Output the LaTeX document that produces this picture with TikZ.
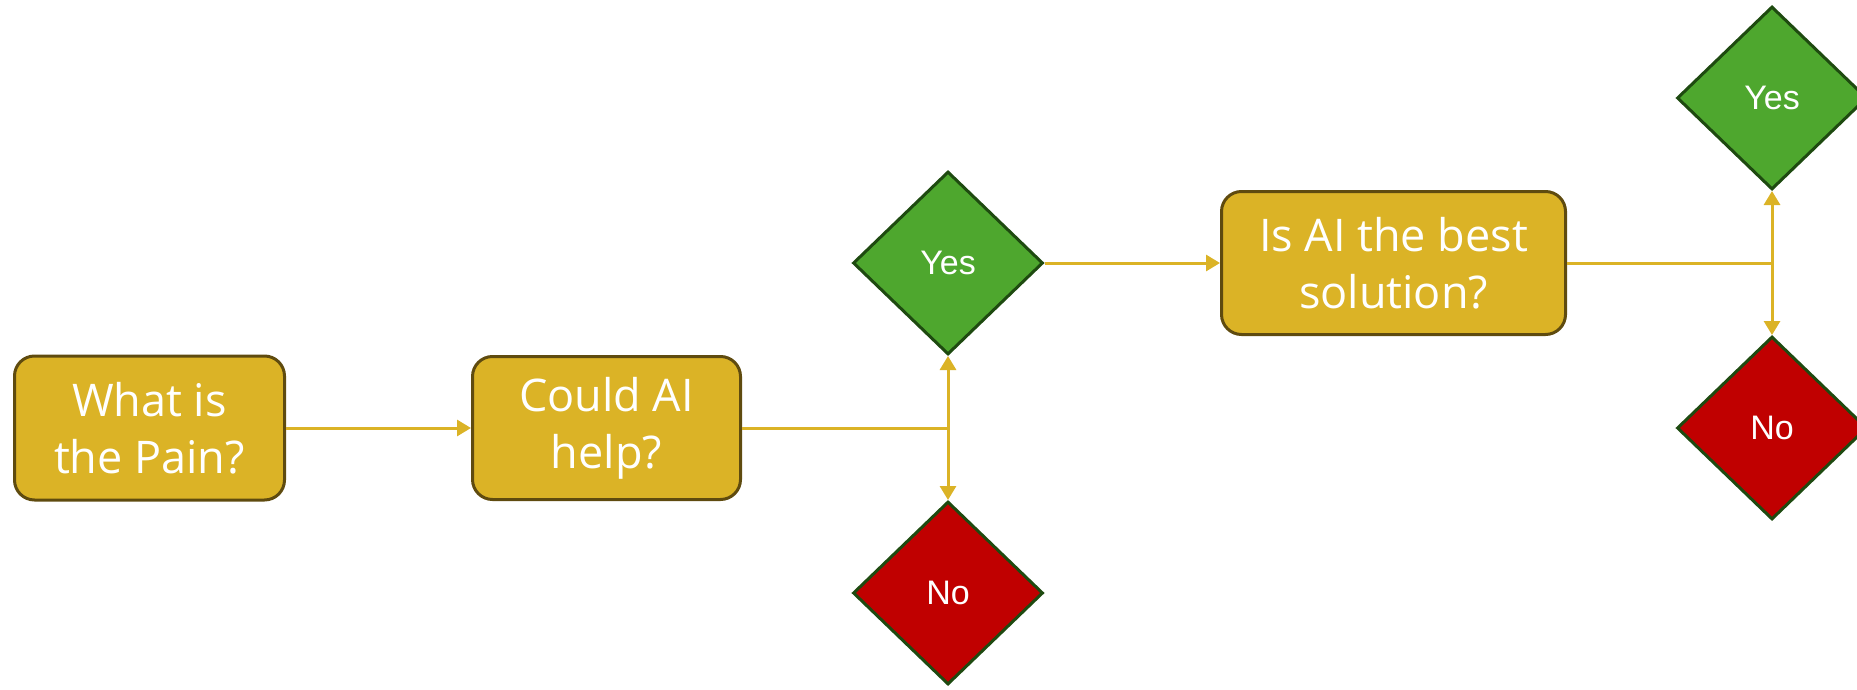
\documentclass[tikz,border=0pt]{standalone}
\usepackage{fontspec}
\setmainfont{Open Sans}
\newfontfamily\diafont{Liberation Sans}
\usetikzlibrary{shapes.geometric,arrows.meta}
\definecolor{gold}{HTML}{DBB326}
\definecolor{boxedge}{HTML}{5F4B0F}
\definecolor{okgreen}{HTML}{4EA72E}
\definecolor{nored}{HTML}{C00000}
\definecolor{diaedge}{HTML}{1E4A10}
\begin{document}
\begin{tikzpicture}[x=1pt,y=-1pt,
 box/.style={draw=boxedge, line width=3pt, fill=gold, rounded corners=20pt, text=white, align=center, font=\fontsize{45}{57}\selectfont, inner sep=0pt},
 dia/.style={diamond, draw=diaedge, line width=3pt, text=white, font=\diafont\fontsize{34}{40}\selectfont, minimum width=190pt, minimum height=183pt, inner sep=0pt},
 conn/.style={draw=gold, line width=3pt},
 arr/.style={conn, -{Triangle[length=14pt,width=16pt]}}]
\path[use as bounding box] (0,0) rectangle (1857,690);
\clip (0,0) rectangle (1857,690);
\node[box, minimum width=270pt, minimum height=144pt] (b1) at (149.5,428) {What is\\the Pain?};
\node[box, minimum width=268pt, minimum height=143pt] (b2) at (606.5,428) {Could AI\\help?};
\node[box, minimum width=344pt, minimum height=143pt] (b3) at (1393.5,263) {Is AI the best\\solution?};
\node[dia, fill=okgreen] (y1) at (948,263) {Yes};
\node[dia, fill=nored] (n1) at (948,593) {No};
\node[dia, fill=okgreen] (y2) at (1772,98) {Yes};
\node[dia, fill=nored] (n2) at (1772,428) {No};
\draw[arr] (b1.east) -- (b2.west);
\coordinate (j1) at (y1.south |- b2.east);
\draw[conn] (b2.east) -- (j1);
\draw[arr] (j1) -- (y1.south);
\draw[arr] (j1) -- (n1.north);
\draw[arr] (y1.east) -- (b3.west);
\coordinate (j2) at (y2.south |- b3.east);
\draw[conn] (b3.east) -- (j2);
\draw[arr] (j2) -- (y2.south);
\draw[arr] (j2) -- (n2.north);
\end{tikzpicture}
\end{document}
